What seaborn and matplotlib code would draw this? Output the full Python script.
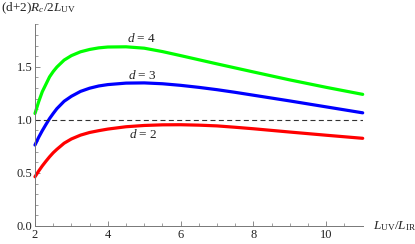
import pandas as pd
import matplotlib
matplotlib.use('Agg')
import matplotlib.pyplot as plt
import seaborn as sns

# values
x_vals = [2.0, 2.1, 2.2, 2.3, 2.4, 2.5, 2.6, 2.8, 3.0, 3.25, 3.5, 3.75, 4.0,
          4.5, 5.0, 5.5, 6.0, 6.5, 7.0, 7.5, 8.0, 9.0, 10.0, 11.0]
d4 = [1.06, 1.17, 1.265, 1.335, 1.405, 1.455, 1.497, 1.563, 1.605, 1.641, 1.663, 1.678, 1.686,
      1.688, 1.675, 1.643, 1.605, 1.566, 1.527, 1.489, 1.451, 1.376, 1.306, 1.24]
d3 = [0.763, 0.835, 0.898, 0.956, 1.012, 1.06, 1.105, 1.175, 1.222, 1.268, 1.298, 1.319, 1.332,
      1.346, 1.348, 1.34, 1.325, 1.306, 1.284, 1.259, 1.232, 1.178, 1.122, 1.066]
d2 = [0.464, 0.517, 0.566, 0.61, 0.652, 0.69, 0.722, 0.78, 0.82, 0.856, 0.881, 0.898, 0.913,
      0.935, 0.947, 0.953, 0.954, 0.95, 0.943, 0.93, 0.916, 0.885, 0.855, 0.826]
labels = ['d = 2', 'd = 3', 'd = 4']
colors = ['#ff0000', '#0000ff', '#00ff00']
label_x = [4.97, 4.95, 4.93]
label_y = [0.865, 1.42, 1.765]

df = pd.concat([
    pd.DataFrame({'x': x_vals, 'y': d2, 'd': 2}),
    pd.DataFrame({'x': x_vals, 'y': d3, 'd': 3}),
    pd.DataFrame({'x': x_vals, 'y': d4, 'd': 4}),
])

sns.set_style('ticks')
plt.rcParams['font.family'] = ['Liberation Serif', 'DejaVu Serif']
plt.rcParams['mathtext.fontset'] = 'custom'
plt.rcParams['mathtext.rm'] = 'Liberation Serif'
plt.rcParams['mathtext.it'] = 'Liberation Serif:italic'

fig = plt.figure(figsize=(4.15, 2.44), dpi=100)
ax = fig.add_axes([35 / 415, 18 / 244, 327.7 / 415, 201.7 / 244])

sns.lineplot(data=df, x='x', y='y', hue='d', palette={2: colors[0], 3: colors[1], 4: colors[2]},
             linewidth=2.3, legend=False, ax=ax, clip_on=False)
for line in ax.lines:
    line.set_solid_joinstyle('round')
ax.axhline(1.0, color='#333333', linestyle=(0, (4.5, 3)), linewidth=0.8)

for lab, lx, ly in zip(labels, label_x, label_y):
    ax.text(lx, ly, r'$d$ = ' + lab[-1], ha='center', va='center', fontsize=9.5, color='#222222')

ax.set_xlim(2, 11)
ax.set_ylim(0, 1.9)
ax.set_xticks([2, 4, 6, 8, 10])
ax.set_xticks([2.5 + 0.5 * i for i in range(17) if (2.5 + 0.5 * i) % 2 != 0], minor=True)
ax.set_yticks([0.0, 0.5, 1.0, 1.5])
ax.set_yticks([0.1 * i for i in range(20) if i % 5 != 0], minor=True)
ax.set_yticklabels(['0.0', '0.5', '1.0', '1.5'])
ax.tick_params(axis='both', which='major', direction='in', length=3.5, width=0.6, color='#777777',
               labelsize=9, pad=2, labelcolor='#222222')
ax.tick_params(axis='both', which='minor', direction='in', length=2, width=0.5, color='#777777')
for s in ['top', 'right']:
    ax.spines[s].set_visible(False)
for s in ['left', 'bottom']:
    ax.spines[s].set_color('#777777')
    ax.spines[s].set_linewidth(0.7)
ax.set_xlabel('')
ax.set_ylabel('')

fig.text(1 / 415, 1 - 8 / 244, r'(d+2)$R_c$/2$L_{\rm UV}$', ha='left', va='center', fontsize=9.5, color='#222222')
fig.text(373 / 415, 18 / 244, r'$L_{\rm UV}$/$L_{\rm IR}$', ha='left', va='center', fontsize=9.5, color='#222222')

fig.savefig('out.png', dpi=100)
